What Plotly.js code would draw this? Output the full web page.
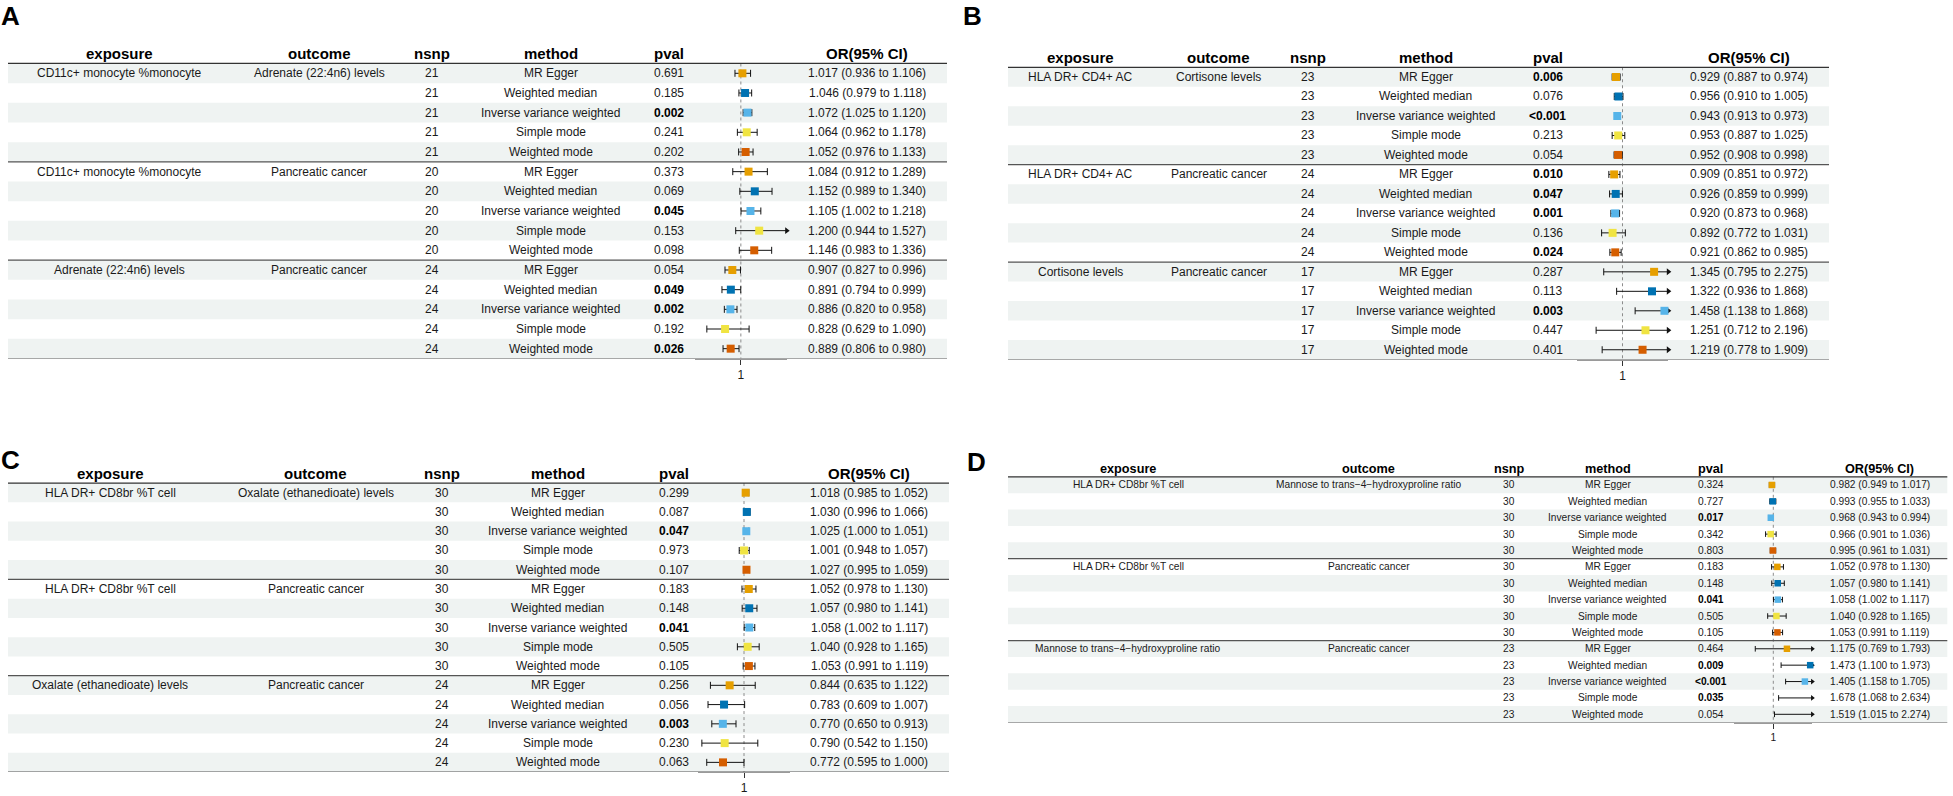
<!DOCTYPE html>
<html><head><meta charset="utf-8">
<script src="https://cdn.plot.ly/plotly-3.0.1.min.js"></script>
<style>html,body{margin:0;padding:0;background:#fff}#chart{width:1953px;height:796px}</style>
</head><body><div id="chart"></div>
<script>
// ---------------- DATA ----------------
const methods = ["MR Egger","Weighted median","Inverse variance weighted","Simple mode","Weighted mode"];
const headers = ["exposure","outcome","nsnp","method","pval","OR(95% CI)"];

// Panel A
const expA  = ["CD11c+ monocyte %monocyte","CD11c+ monocyte %monocyte","Adrenate (22:4n6) levels"];
const outA  = ["Adrenate (22:4n6) levels","Pancreatic cancer","Pancreatic cancer"];
const nsnpA = [21,21,21,21,21, 20,20,20,20,20, 24,24,24,24,24];
const pvalA = ["0.691","0.185","0.002","0.241","0.202", "0.373","0.069","0.045","0.153","0.098", "0.054","0.049","0.002","0.192","0.026"];
const orA   = [1.017,1.046,1.072,1.064,1.052, 1.084,1.152,1.105,1.200,1.146, 0.907,0.891,0.886,0.828,0.889];
const loA   = [0.936,0.979,1.025,0.962,0.976, 0.912,0.989,1.002,0.944,0.983, 0.827,0.794,0.820,0.629,0.806];
const hiA   = [1.106,1.118,1.120,1.178,1.133, 1.289,1.340,1.218,1.527,1.336, 0.996,0.999,0.958,1.090,0.980];

// Panel B
const expB  = ["HLA DR+ CD4+ AC","HLA DR+ CD4+ AC","Cortisone levels"];
const outB  = ["Cortisone levels","Pancreatic cancer","Pancreatic cancer"];
const nsnpB = [23,23,23,23,23, 24,24,24,24,24, 17,17,17,17,17];
const pvalB = ["0.006","0.076","<0.001","0.213","0.054", "0.010","0.047","0.001","0.136","0.024", "0.287","0.113","0.003","0.447","0.401"];
const orB   = [0.929,0.956,0.943,0.953,0.952, 0.909,0.926,0.920,0.892,0.921, 1.345,1.322,1.458,1.251,1.219];
const loB   = [0.887,0.910,0.913,0.887,0.908, 0.851,0.859,0.873,0.772,0.862, 0.795,0.936,1.138,0.712,0.778];
const hiB   = [0.974,1.005,0.973,1.025,0.998, 0.972,0.999,0.968,1.031,0.985, 2.275,1.868,1.868,2.196,1.909];

// Panel C
const expC  = ["HLA DR+ CD8br %T cell","HLA DR+ CD8br %T cell","Oxalate (ethanedioate) levels"];
const outC  = ["Oxalate (ethanedioate) levels","Pancreatic cancer","Pancreatic cancer"];
const nsnpC = [30,30,30,30,30, 30,30,30,30,30, 24,24,24,24,24];
const pvalC = ["0.299","0.087","0.047","0.973","0.107", "0.183","0.148","0.041","0.505","0.105", "0.256","0.056","0.003","0.230","0.063"];
const orC   = [1.018,1.030,1.025,1.001,1.027, 1.052,1.057,1.058,1.040,1.053, 0.844,0.783,0.770,0.790,0.772];
const loC   = [0.985,0.996,1.000,0.948,0.995, 0.978,0.980,1.002,0.928,0.991, 0.635,0.609,0.650,0.542,0.595];
const hiC   = [1.052,1.066,1.051,1.057,1.059, 1.130,1.141,1.117,1.165,1.119, 1.122,1.007,0.913,1.150,1.000];

// Panel D
const expD  = ["HLA DR+ CD8br %T cell","HLA DR+ CD8br %T cell","Mannose to trans\u22124\u2212hydroxyproline ratio"];
const outD  = ["Mannose to trans\u22124\u2212hydroxyproline ratio","Pancreatic cancer","Pancreatic cancer"];
const nsnpD = [30,30,30,30,30, 30,30,30,30,30, 23,23,23,23,23];
const pvalD = ["0.324","0.727","0.017","0.342","0.803", "0.183","0.148","0.041","0.505","0.105", "0.464","0.009","<0.001","0.035","0.054"];
const orD   = [0.982,0.993,0.968,0.966,0.995, 1.052,1.057,1.058,1.040,1.053, 1.175,1.473,1.405,1.678,1.519];
const loD   = [0.949,0.955,0.943,0.901,0.961, 0.978,0.980,1.002,0.928,0.991, 0.769,1.100,1.158,1.068,1.015];
const hiD   = [1.017,1.033,0.994,1.036,1.031, 1.130,1.141,1.117,1.165,1.119, 1.793,1.973,1.705,2.634,2.274];

// ---------------- STYLE / GEOMETRY ----------------
const W = 1953, H = 796;
const FONT = "Liberation Sans, Arial, sans-serif";
const methodColors = ["#E69F00","#0072B2","#56B4E9","#F0E442","#D55E00"];
const xlim = [0.5, 1.5];

const panels = [
  {label:"A", lx:10, ly:16, exp:expA, out:outA, nsnp:nsnpA, pval:pvalA, or:orA, lo:loA, hi:hiA,
   left:8, right:947, rowTop:43.8, rowBot:358.5, fx0:695, fx1:786.7,
   cols:[119.3,319.3,432,550.7,669.3,867.4], fs:12, hs:15, box:8, cap:5, arr:6},
  {label:"B", lx:972, ly:16, exp:expB, out:outB, nsnp:nsnpB, pval:pvalB, or:orB, lo:loB, hi:hiB,
   left:1008, right:1829, rowTop:47.8, rowBot:359.5, fx0:1576.7, fx1:1668.3,
   cols:[1080.3,1218.7,1308.3,1425.7,1547.7,1748.7], fs:12, hs:15, box:8, cap:5, arr:6},
  {label:"C", lx:10, ly:460, exp:expC, out:outC, nsnp:nsnpC, pval:pvalC, or:orC, lo:loC, hi:hiC,
   left:8, right:949, rowTop:463.8, rowBot:772.0, fx0:698, fx1:790,
   cols:[110.3,315.7,442,557.7,674.3,869], fs:12, hs:15, box:8, cap:5, arr:6},
  {label:"D", lx:976, ly:462, exp:expD, out:outD, nsnp:nsnpD, pval:pvalD, or:orD, lo:loD, hi:hiD,
   left:1008, right:1947.3, rowTop:460.4, rowBot:722.5, fx0:1734.3, fx1:1812.3,
   cols:[1128.3,1368.7,1509,1607.7,1710.7,1879.7], fs:10.2, hs:12.7, box:6.5, cap:4, arr:5}
];

const traces = [];
const annotations = [];
const shapes = [];
const layout = {
  width: W, height: H, margin:{l:0,r:0,t:0,b:0},
  paper_bgcolor:"#fff", plot_bgcolor:"rgba(0,0,0,0)",
  showlegend:false, font:{family:FONT, color:"#1a1a1a"},
  annotations, shapes
};

const isSig = p => p.startsWith("<") || parseFloat(p) < 0.05;

panels.forEach((P, k) => {
  const n = k + 1;
  const xa = n === 1 ? "x" : "x" + n;
  const ya = n === 1 ? "y" : "y" + n;
  const xkey = n === 1 ? "xaxis" : "xaxis" + n;
  const ykey = n === 1 ? "yaxis" : "yaxis" + n;
  const nRows = P.or.length;

  layout[xkey] = {
    domain:[P.fx0 / W, P.fx1 / W], range:xlim, anchor:ya,
    showgrid:false, zeroline:false, showline:true, linecolor:"#9a9a9a", linewidth:1,
    ticks:"outside", ticklen:5, tickwidth:1, tickcolor:"#333",
    tickvals:[1], ticktext:["1"], tickfont:{size:P.fs, family:FONT, color:"#1a1a1a"},
    fixedrange:true
  };
  layout[ykey] = {
    domain:[1 - P.rowBot / H, 1 - P.rowTop / H], range:[nRows - 0.5, -1.5], anchor:xa,
    visible:false, fixedrange:true
  };

  // stripes
  for (let i = 0; i < nRows; i += 2) {
    shapes.push({type:"rect", layer:"below", xref:"paper", yref:ya,
      x0:P.left / W, x1:P.right / W, y0:i - 0.5, y1:i + 0.5,
      fillcolor:"#eff3f2", line:{width:0}});
  }
  // horizontal rules: header, group separators, bottom
  [-0.5, 4.5, 9.5, nRows - 0.5].forEach((yv, j) => {
    shapes.push({type:"line", layer:"above", xref:"paper", yref:ya,
      x0:P.left / W, x1:P.right / W, y0:yv, y1:yv,
      line:{color: j === 0 ? "#333" : "#555", width:1.2}});
  });
  // reference line at OR = 1
  shapes.push({type:"line", layer:"below", xref:xa, yref:ya, x0:1, x1:1,
    y0:-0.5, y1:nRows - 0.5, line:{color:"#8c8c8c", width:1, dash:"3px,3px"}});

  // headers
  headers.forEach((h, c) => {
    annotations.push({xref:"paper", yref:ya, x:P.cols[c] / W, y:-1, text:"<b>" + h + "</b>",
      showarrow:false, xanchor:"center", yanchor:"middle",
      font:{size:P.hs, family:FONT, color:"#000"}});
  });

  // body text
  const tfont = {size:P.fs, family:FONT, color:"#1a1a1a"};
  for (let i = 0; i < nRows; i++) {
    const g = Math.floor(i / 5), m = i % 5;
    if (m === 0) {
      annotations.push({xref:"paper", yref:ya, x:P.cols[0] / W, y:i, text:P.exp[g],
        showarrow:false, xanchor:"center", yanchor:"middle", font:tfont});
      annotations.push({xref:"paper", yref:ya, x:P.cols[1] / W, y:i, text:P.out[g],
        showarrow:false, xanchor:"center", yanchor:"middle", font:tfont});
    }
    annotations.push({xref:"paper", yref:ya, x:P.cols[2] / W, y:i, text:String(P.nsnp[i]),
      showarrow:false, xanchor:"center", yanchor:"middle", font:tfont});
    annotations.push({xref:"paper", yref:ya, x:P.cols[3] / W, y:i, text:methods[m],
      showarrow:false, xanchor:"center", yanchor:"middle", font:tfont});
    const p = P.pval[i];
    annotations.push({xref:"paper", yref:ya, x:P.cols[4] / W, y:i,
      text: isSig(p) ? "<b>" + p + "</b>" : p,
      showarrow:false, xanchor:"center", yanchor:"middle",
      font:{size:P.fs, family:FONT, color: isSig(p) ? "#000" : "#1a1a1a"}});
    const ortxt = P.or[i].toFixed(3) + " (" + P.lo[i].toFixed(3) + " to " + P.hi[i].toFixed(3) + ")";
    annotations.push({xref:"paper", yref:ya, x:P.cols[5] / W, y:i, text:ortxt,
      showarrow:false, xanchor:"center", yanchor:"middle", font:tfont});
  }

  // forest marks
  const wx = [], wy = [], cx = [], cy = [], arx = [], ary = [], alx = [], aly = [];
  const bx = [], by = [], bc = [];
  for (let i = 0; i < nRows; i++) {
    const lo = Math.max(P.lo[i], xlim[0]), hi = Math.min(P.hi[i], xlim[1]);
    wx.push(lo, hi, null); wy.push(i, i, null);
    if (P.lo[i] >= xlim[0]) { cx.push(P.lo[i]); cy.push(i); } else { alx.push(xlim[0]); aly.push(i); }
    if (P.hi[i] <= xlim[1]) { cx.push(P.hi[i]); cy.push(i); } else { arx.push(xlim[1]); ary.push(i); }
    if (P.or[i] >= xlim[0] && P.or[i] <= xlim[1]) { bx.push(P.or[i]); by.push(i); bc.push(methodColors[i % 5]); }
  }
  traces.push({type:"scatter", mode:"lines", x:wx, y:wy, xaxis:xa, yaxis:ya, cliponaxis:false,
    line:{color:"#111", width:1}, hoverinfo:"skip"});
  traces.push({type:"scatter", mode:"markers", x:cx, y:cy, xaxis:xa, yaxis:ya, cliponaxis:false,
    marker:{symbol:"line-ns-open", size:P.cap, color:"#111", line:{color:"#111", width:1}}, hoverinfo:"skip"});
  traces.push({type:"scatter", mode:"markers", x:arx, y:ary, xaxis:xa, yaxis:ya, cliponaxis:false,
    marker:{symbol:"triangle-right", size:P.arr, color:"#111"}, hoverinfo:"skip"});
  traces.push({type:"scatter", mode:"markers", x:alx, y:aly, xaxis:xa, yaxis:ya, cliponaxis:false,
    marker:{symbol:"triangle-left", size:P.arr, color:"#111"}, hoverinfo:"skip"});
  traces.push({type:"scatter", mode:"markers", x:bx, y:by, xaxis:xa, yaxis:ya, cliponaxis:false,
    marker:{symbol:"square", size:P.box, color:bc, line:{width:0}}, hoverinfo:"skip"});

  // panel letter
  annotations.push({xref:"paper", yref:"paper", x:P.lx / W, y:1 - P.ly / H, text:"<b>" + P.label + "</b>",
    showarrow:false, xanchor:"center", yanchor:"middle", font:{size:26, family:FONT, color:"#000"}});
});

Plotly.newPlot("chart", traces, layout, {displayModeBar:false, staticPlot:true});
</script>
</body></html>
